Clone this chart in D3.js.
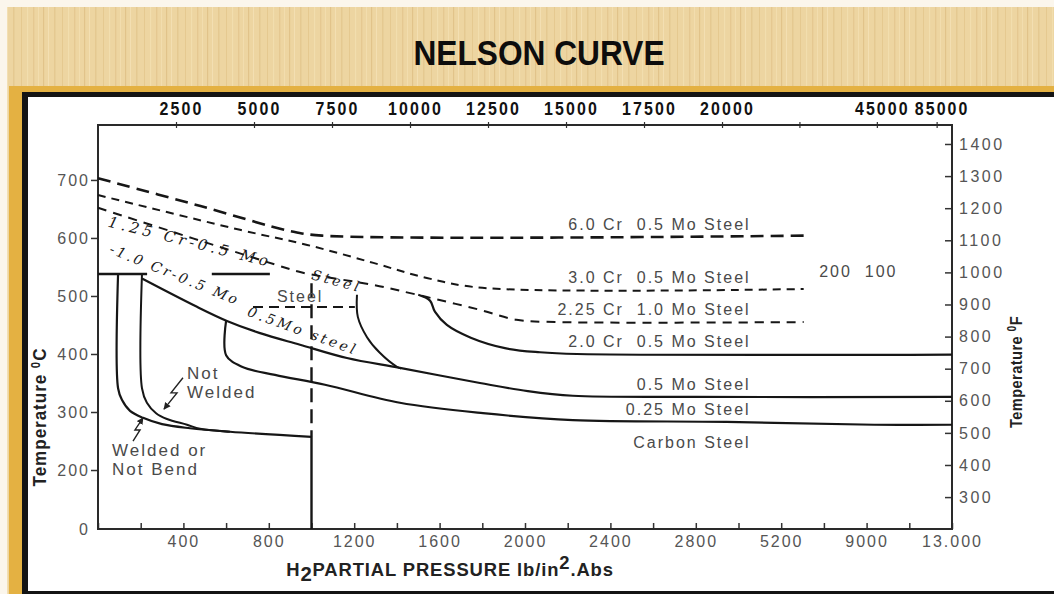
<!DOCTYPE html>
<html><head><meta charset="utf-8">
<script src="https://cdn.jsdelivr.net/npm/d3@7"></script>
<style>
html,body{margin:0;padding:0;background:#fff;}
svg{display:block;}
text{white-space:pre;}
</style></head>
<body>
<svg id="chart" width="1054" height="594"></svg>
<script>
// ================= DATA =================
const title = "NELSON CURVE";
// bottom axis: H2 partial pressure, psi
const bottomTicks = [0,200,400,600,800,1000,1200,1400,1600,1800,2000,2200,2400,2600,2800,4000,5200,7100,9000,11000,13000];
const bottomLabels = [400,800,1200,1600,2000,2400,2800,5200,9000,13000];
const bottomLabelText = ["400","800","1200","1600","2000","2400","2800","5200","9000","13.000"];
// top axis: kPa
const topTicks = [2500,5000,7500,10000,12500,15000,17500,20000,32500,45000,85000];
const topLabels = [2500,5000,7500,10000,12500,15000,17500,20000,45000,85000];
// left axis °C, right axis °F
const leftTicks = [0,200,300,400,500,600,700];
const rightTicks = [300,400,500,600,700,800,900,1000,1100,1200,1300,1400];

// curves: [psi, °C]
const cr60 = [[0,703],[480,655],[900,612],[1050,604],[6200,604]];
const cr30 = [[0,674],[665,614],[980,588],[1290,557],[1540,531],[1800,514],[6200,512]];
const cr225 = [[0,652],[866,550],[960,540],[1290,519],[1414,509],[1600,493],[1790,476],[1960,459],[2160,455],[6200,455]];
const cr10Slope = [[20,588],[700,486]];
const cr10Flat = [[726,481],[1203,481]];
const cr125 = [[1213,502],[1217,464],[1260,429],[1320,402],[1400,378],[1420,375]];
const cr20 = [[1500,502],[1555,492],[1578,473],[1634,450],[1746,428],[1906,410],[2070,403],[2243,400],[13000,399]];
const mo05 = [[206,530],[454,483],[604,457],[759,436],[946,416],[1166,393],[1414,376],[1789,350],[2013,336],[2224,328],[2800,326],[13000,326]];
const mo025 = [[600,457],[600,398],[674,378],[829,364],[1063,347],[1414,316],[1803,298],[2224,286],[3665,283],[9360,278],[13000,278]];
const welded = [[94,538],[94,341],[112,321],[150,302],[211,290],[300,279],[431,272],[618,266],[1000,257]];
const notWelded = [[206,538],[206,341],[229,316],[272,298],[323,288],[417,278],[478,271],[618,266]];
const cap540a = [[0,538],[230,538]];
const cap540b = [[533,538],[805,538]];
const p1000Dashed = [[1000,522],[1000,257]];
const p1000Solid = [[1000,257],[1000,0]];

// printed labels
const steelLabels = ["6.0 Cr  0.5 Mo Steel","3.0 Cr  0.5 Mo Steel","2.25 Cr  1.0 Mo Steel","2.0 Cr  0.5 Mo Steel","0.5 Mo Steel","0.25 Mo Steel","Carbon Steel"];
const steelLabelTemp = [614,522,467,412,338,295,238];
const steelLabelPsi = 4340;
const noteText = ["200  100","Steel","Not","Welded","Welded or","Not Bend"];
const notePos = [[6891,533],[838,490],[417,357],[417,324],[66,224],[66,183]];
// handwritten labels
const handText = ["1.25 Cr-0.5 Mo","Steel","0.5Mo steel"];
const handPos = [[431,593],[1119,526],[960,440]];
const cr10Text = "-1.0 Cr-0.5 Mo";
// pointer arrows
const arrowNotWelded = [[398,359],[342,333],[370,333],[309,305]];
const arrowWelded = [[164,250],[197,269],[173,269],[211,290]];

// ================= LAYOUT =================
const svg = d3.select("#chart");
const M = {left:98, right:952, top:125, bottom:529};
const pw = M.right - M.left, ph = M.bottom - M.top;
const x = d3.scaleLinear().domain([0,2800,5200,9000,13000])
  .range([0,0.7,0.8,0.9,1].map(f => M.left + f*pw));
const y = d3.scaleLinear().domain([0,200,700])
  .range([0,0.146,0.864].map(f => M.bottom - f*ph));
const xTop = d3.scaleLinear().domain([0,20000,45000,85000])
  .range([0,0.7307,0.912,0.982].map(f => M.left + f*pw));
const yF = d3.scaleLinear().domain([300,1400])
  .range([0.079,0.953].map(f => M.bottom - f*ph));

const SANS = "'Liberation Sans', Arial, sans-serif";
const HAND = "'DejaVu Serif', serif";

// ================= BACKGROUND =================
const defs = svg.append("defs");
const pat = defs.append("pattern").attr("id","wood").attr("patternUnits","userSpaceOnUse")
  .attr("width",41).attr("height",80);
pat.append("rect").attr("width",41).attr("height",80).attr("fill","#edd5a1");
[[2,1.2,"#dcbd80",0.7],[7,0.8,"#f6e5bb",0.8],[13,1.5,"#e0c287",0.6],[21,0.7,"#d8b878",0.6],
 [27,1.1,"#f4e0b2",0.8],[33,1.4,"#dfc087",0.6],[38,0.6,"#f7e7c0",0.7]].forEach(s => {
  pat.append("rect").attr("x",s[0]).attr("y",0).attr("width",s[1]).attr("height",80)
    .attr("fill",s[2]).attr("opacity",s[3]);
});
defs.append("marker").attr("id","arrowhead").attr("viewBox","0 0 10 10")
  .attr("refX",9).attr("refY",5).attr("markerWidth",5).attr("markerHeight",5)
  .attr("orient","auto").append("path").attr("d","M0,0L10,5L0,10z").attr("fill","#222");

svg.append("rect").attr("width",1054).attr("height",594).attr("fill","#fbf6ec");
svg.append("rect").attr("x",7).attr("y",7).attr("width",1047).attr("height",587).attr("fill","url(#wood)");
svg.append("rect").attr("x",9).attr("y",86).attr("width",1045).attr("height",508).attr("fill","#e4b142");
svg.append("rect").attr("x",22).attr("y",92).attr("width",1032).attr("height",502).attr("fill","#141414");
svg.append("rect").attr("x",28).attr("y",97).attr("width",1026).attr("height",494).attr("fill","#ffffff");

svg.append("text").attr("transform","translate(539,65) scale(0.88,1)").attr("text-anchor","middle")
  .attr("font-family",SANS).attr("font-weight","bold").attr("font-size",36)
  .attr("fill","#0d0d0d").text(title);

// ================= AXES =================
function styleAxis(g, opts){
  g.attr("font-family", opts.family).attr("font-size", opts.size);
  g.select(".domain").remove();
  g.selectAll(".tick line").attr("stroke","#333").attr("stroke-width",1.5);
  g.selectAll(".tick text").attr("fill", opts.fill).attr("letter-spacing", opts.ls)
    .attr("font-weight", opts.weight || "normal");
}
const gB = svg.append("g").attr("transform",`translate(0,${M.bottom})`)
  .call(d3.axisBottom(x).tickValues(bottomTicks).tickSizeInner(-6).tickSizeOuter(0).tickPadding(7)
    .tickFormat(d => { const i = bottomLabels.indexOf(d); return i < 0 ? "" : bottomLabelText[i]; }));
styleAxis(gB, {family:SANS, size:16, fill:"#555", ls:2});

const gL = svg.append("g").attr("transform",`translate(${M.left},0)`)
  .call(d3.axisLeft(y).tickValues(leftTicks).tickSizeInner(7).tickSizeOuter(0).tickPadding(1)
    .tickFormat(d3.format("d")));
styleAxis(gL, {family:SANS, size:16, fill:"#555", ls:2});
gL.selectAll(".tick").filter(d => d === 0).select("line").remove();

const gR = svg.append("g").attr("transform",`translate(${M.right},0)`)
  .call(d3.axisRight(yF).tickValues(rightTicks).tickSizeInner(-7).tickSizeOuter(0).tickPadding(7)
    .tickFormat(d3.format("d")));
styleAxis(gR, {family:SANS, size:16, fill:"#555", ls:2.5});

const gT = svg.append("g").attr("transform",`translate(0,${M.top})`)
  .call(d3.axisTop(xTop).tickValues(topTicks).tickSizeInner(3).tickSizeOuter(0).tickPadding(7)
    .tickFormat(d => topLabels.includes(d) ? String(d) : ""));
styleAxis(gT, {family:SANS, size:19, fill:"#111", ls:2.5, weight:"bold"});
gT.selectAll(".tick line").attr("y1",3).attr("stroke-width",1.2);
gT.selectAll(".tick text").attr("transform","translate(5,0) scale(0.84,1)");

// plot frame
svg.append("rect").attr("x",M.left).attr("y",M.top).attr("width",pw).attr("height",ph)
  .attr("fill","none").attr("stroke","#2a2a2a").attr("stroke-width",2);

// axis titles
const tl = svg.append("text").attr("transform","translate(46,417) rotate(-90) scale(0.95,1)")
  .attr("text-anchor","middle").attr("font-family",SANS).attr("font-weight","bold")
  .attr("font-size",18).attr("letter-spacing",1).attr("fill","#222");
tl.append("tspan").text("Temperature ");
tl.append("tspan").attr("font-size",12).attr("baseline-shift","super").text("0");
tl.append("tspan").text("C");

const tr = svg.append("text").attr("transform","translate(1022,372) rotate(-90) scale(0.86,1)")
  .attr("text-anchor","middle").attr("font-family",SANS).attr("font-weight","bold")
  .attr("font-size",17).attr("letter-spacing",0.5).attr("fill","#222");
tr.append("tspan").text("Temperature ");
tr.append("tspan").attr("font-size",12).attr("baseline-shift","super").text("0");
tr.append("tspan").text("F");

const tb = svg.append("text").attr("transform","translate(450,576) scale(0.97,1)")
  .attr("text-anchor","middle").attr("font-family",SANS).attr("font-weight","bold")
  .attr("font-size",19).attr("letter-spacing",0.9).attr("fill","#222");
tb.append("tspan").text("H");
tb.append("tspan").attr("dy",5).attr("font-size",21).text("2");
tb.append("tspan").attr("dy",-5).text("PARTIAL PRESSURE lb/in");
tb.append("tspan").attr("dy",-7).text("2");
tb.append("tspan").attr("dy",7).text(".Abs");

// ================= CURVES =================
const smooth = d3.line().x(d => x(d[0])).y(d => y(d[1])).curve(d3.curveCatmullRom.alpha(0.5));
const straight = d3.line().x(d => x(d[0])).y(d => y(d[1]));
const plot = svg.append("g").attr("fill","none").attr("stroke","#161616").attr("stroke-linecap","butt");
function draw(data, gen, width, dash){
  const p = plot.append("path").attr("d", gen(data)).attr("stroke-width", width);
  if (dash) p.attr("stroke-dasharray", dash);
  return p;
}
draw(cr60, smooth, 2.6, "13,7");
draw(cr30, smooth, 2, "8,6");
draw(cr225, smooth, 2, "9,7");
draw(cr10Flat, straight, 2.2, "10,6");
draw(cr125, smooth, 2);
draw(cr20, smooth, 2.2);
draw(mo05, smooth, 2.2);
draw(mo025, smooth, 2.2);
draw(welded, smooth, 2.2);
draw(notWelded, smooth, 2);
draw(cap540a, straight, 2.4);
draw(cap540b, straight, 2.4);
draw(p1000Dashed, straight, 2.4, "14,7");
draw(p1000Solid, straight, 2.4);

// arrows
[arrowNotWelded, arrowWelded].forEach(a => {
  plot.append("path").attr("d", straight(a)).attr("stroke-width",1.4).attr("stroke","#222")
    .attr("marker-end","url(#arrowhead)");
});

// ================= LABELS =================
const lab = svg.append("g").attr("font-family",SANS).attr("fill","#4a4a4a");
lab.selectAll("text.steel").data(steelLabels).join("text").attr("class","steel")
  .attr("x", x(steelLabelPsi)).attr("y",(d,i) => y(steelLabelTemp[i]))
  .attr("text-anchor","end").attr("font-size",16).attr("letter-spacing",2).text(d => d);
lab.selectAll("text.note").data(noteText).join("text").attr("class","note")
  .attr("x",(d,i) => x(notePos[i][0])).attr("y",(d,i) => y(notePos[i][1]))
  .attr("font-size",(d,i) => i < 2 ? 16 : 17).attr("letter-spacing",2).text(d => d);

// handwritten labels
const handAngles = [14, 15, 20];
const hand = svg.append("g").attr("font-family",HAND).attr("font-style","italic").attr("fill","#1a1a1a");
hand.selectAll("text").data(handText).join("text")
  .attr("transform",(d,i) => `translate(${x(handPos[i][0])},${y(handPos[i][1])}) rotate(${handAngles[i]})`)
  .attr("text-anchor","middle").attr("dominant-baseline","central")
  .attr("font-size",(d,i) => i === 0 ? 15 : 14).attr("letter-spacing",(d,i) => i === 0 ? 3.8 : 3).text(d => d);
// "1.0 Cr - 0.5 Mo" written along its own sloped line
const a0 = [x(cr10Slope[0][0]), y(cr10Slope[0][1])], a1 = [x(cr10Slope[1][0]), y(cr10Slope[1][1])];
const ang = Math.atan2(a1[1]-a0[1], a1[0]-a0[0]) * 180 / Math.PI;
hand.append("text")
  .attr("transform",`translate(${(a0[0]+a1[0])/2},${(a0[1]+a1[1])/2}) rotate(${ang})`)
  .attr("text-anchor","middle").attr("dominant-baseline","central")
  .attr("font-size",14).attr("letter-spacing",2.6).text(cr10Text);
</script>
</body></html>
